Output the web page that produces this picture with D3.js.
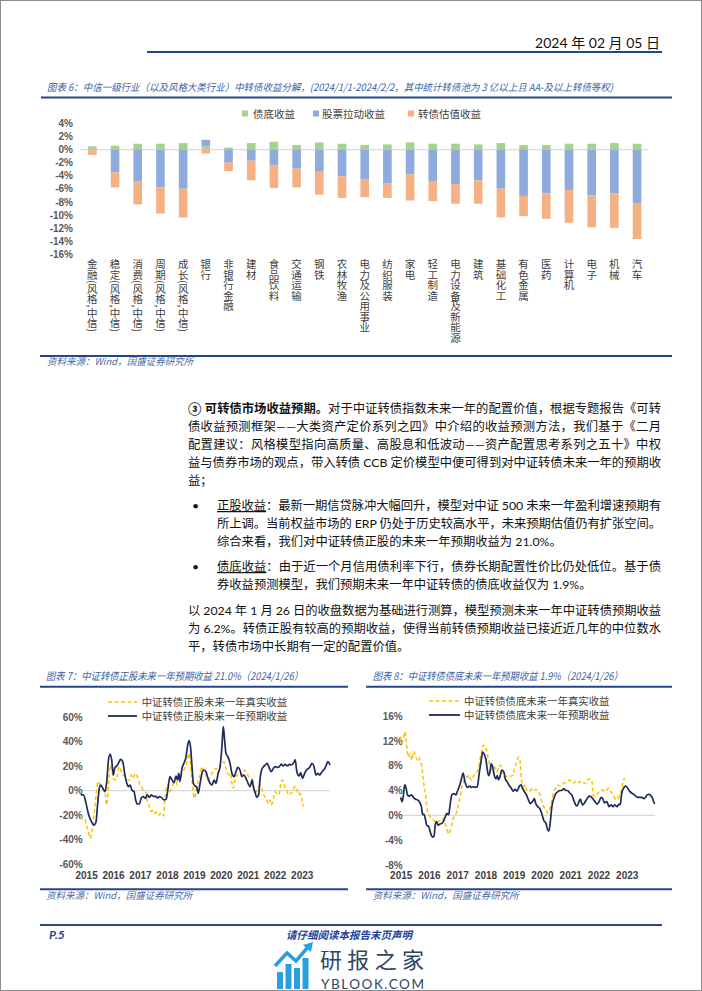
<!DOCTYPE html>
<html>
<head>
<meta charset="utf-8">
<script src="https://cdn.jsdelivr.net/npm/d3@7"></script>
<style>
body { margin: 0; background: #fff; }
svg { display: block; }
text { font-family: "Noto Sans CJK SC", sans-serif; }
.lat { font-family: Lato, "Noto Sans CJK SC", sans-serif; }
.axis text { font-family: "Liberation Sans", Arial, sans-serif; font-weight: bold; fill: #595959; }
</style>
</head>
<body>
<svg id="page" width="702" height="991"></svg>
<script>
// ---- chart 6 data: industry return decomposition, %
var industries = ["金融(风格,中信)", "稳定(风格,中信)", "消费(风格,中信)", "周期(风格,中信)", "成长(风格,中信)",
	"银行", "非银行金融", "建材", "食品饮料", "交通运输", "钢铁", "农林牧渔", "电力及公用事业", "纺织服装",
	"家电", "轻工制造", "电力设备及新能源", "建筑", "基础化工", "有色金属", "医药", "计算机", "电子", "机械", "汽车"];
var bondFloorRet = [0.5, 0.6, 0.9, 0.9, 1.0, 0.5, 0.3, 1.0, 1.2, 0.7, 1.1, 0.9, 0.7, 0.8, 1.1, 0.9, 0.9, 0.8, 1.0, 0.7, 0.7, 0.9, 0.9, 1.0, 0.9];
var stockRet = [-0.1, -3.5, -4.9, -5.8, -6.0, 1.0, -2.0, -1.7, -2.4, -2.9, -3.4, -4.1, -4.5, -5.2, -3.8, -4.8, -5.3, -4.7, -6.0, -7.1, -6.7, -6.2, -7.0, -6.7, -8.2];
var valuationRet = [-0.7, -2.3, -3.5, -4.0, -4.4, -0.6, -1.3, -3.0, -3.5, -2.9, -3.5, -3.3, -2.8, -2.2, -4.0, -3.1, -3.0, -3.6, -4.4, -3.1, -3.9, -5.0, -4.9, -5.3, -5.5];
var seriesNames6 = ["债底收益", "股票拉动收益", "转债估值收益"];
var yTicks6 = [4, 2, 0, -2, -4, -6, -8, -10, -12, -14, -16];

// ---- chart 7 data: [decimal year, %]
var eqActual = [[2014.80,-21.3],[2014.87,-24.0],[2014.96,-23.5],[2015.02,-29.5],[2015.08,-32.2],[2015.15,-39.0],[2015.21,-34.9],[2015.27,-24.0],[2015.34,-10.4],[2015.39,0.5],[2015.44,7.4],[2015.49,6.0],[2015.57,3.8],[2015.64,0.5],[2015.71,-2.2],[2015.76,-11.7],[2015.81,-2.2],[2015.86,14.2],[2015.91,21.0],[2015.96,16.9],[2016.01,10.1],[2016.09,8.7],[2016.16,12.8],[2016.23,19.6],[2016.31,15.5],[2016.38,12.8],[2016.46,11.5],[2016.53,8.7],[2016.61,8.7],[2016.68,12.8],[2016.75,10.1],[2016.83,14.2],[2016.90,11.5],[2016.98,6.0],[2017.05,3.3],[2017.12,0.5],[2017.20,-0.8],[2017.27,-9.0],[2017.35,-13.1],[2017.42,-17.2],[2017.50,-15.8],[2017.57,-18.5],[2017.64,-17.2],[2017.72,-19.9],[2017.79,-18.5],[2017.87,-20.7],[2017.92,-7.6],[2017.97,1.9],[2018.04,4.6],[2018.11,-0.8],[2018.19,3.3],[2018.26,6.0],[2018.34,4.6],[2018.41,11.5],[2018.48,10.1],[2018.56,14.2],[2018.63,16.9],[2018.71,20.9],[2018.76,25.1],[2018.83,30.5],[2018.88,19.6],[2018.93,8.7],[2018.98,-2.2],[2019.03,-6.3],[2019.08,-0.8],[2019.15,7.4],[2019.23,12.8],[2019.30,19.6],[2019.37,15.5],[2019.45,12.8],[2019.52,8.7],[2019.60,11.5],[2019.67,14.2],[2019.75,16.9],[2019.82,18.3],[2019.90,14.2],[2019.97,19.6],[2020.04,22.4],[2020.12,23.7],[2020.17,19.6],[2020.22,16.9],[2020.29,12.8],[2020.36,14.2],[2020.41,6.0],[2020.46,1.9],[2020.51,7.4],[2020.59,12.8],[2020.66,12.8],[2020.73,14.2],[2020.81,12.8],[2020.88,16.9],[2020.96,14.2],[2021.03,11.5],[2021.11,10.1],[2021.18,8.7],[2021.25,0.5],[2021.33,-0.8],[2021.40,3.3],[2021.48,4.6],[2021.55,-0.8],[2021.63,-4.9],[2021.70,-7.6],[2021.77,-10.4],[2021.82,-7.6],[2021.87,-11.7],[2021.95,-6.3],[2022.02,-0.8],[2022.10,-3.5],[2022.17,-2.2],[2022.24,7.4],[2022.29,8.7],[2022.37,3.3],[2022.44,0.5],[2022.52,-3.5],[2022.59,-2.2],[2022.67,-0.8],[2022.74,3.3],[2022.81,1.9],[2022.89,-3.5],[2022.94,-2.2],[2023.01,-7.6],[2023.06,-13.1]];
var eqPredicted = [[2014.80,-3.5],[2014.90,-3.5],[2015.00,-10.4],[2015.08,-18.5],[2015.17,-24.0],[2015.25,-27.3],[2015.29,-28.1],[2015.37,-25.4],[2015.42,-13.1],[2015.49,1.9],[2015.54,4.6],[2015.62,1.9],[2015.70,-0.8],[2015.76,6.0],[2015.83,25.1],[2015.89,30.0],[2015.95,25.1],[2016.01,12.8],[2016.06,18.3],[2016.14,20.2],[2016.21,22.9],[2016.28,25.6],[2016.36,23.7],[2016.43,14.2],[2016.51,6.0],[2016.57,3.3],[2016.63,4.6],[2016.70,0.5],[2016.78,-0.8],[2016.84,-7.6],[2016.90,-10.9],[2016.98,-10.9],[2017.04,-6.3],[2017.12,-4.9],[2017.20,-6.3],[2017.27,-3.5],[2017.35,-5.5],[2017.42,-3.5],[2017.50,-4.9],[2017.57,-4.4],[2017.64,-6.0],[2017.72,-4.9],[2017.79,-5.5],[2017.89,-7.6],[2017.97,-7.1],[2018.04,1.9],[2018.11,11.5],[2018.19,8.7],[2018.26,6.5],[2018.34,12.0],[2018.39,8.7],[2018.44,14.2],[2018.48,7.4],[2018.56,18.3],[2018.63,22.4],[2018.71,27.8],[2018.76,36.0],[2018.82,40.9],[2018.88,34.6],[2018.93,19.6],[2018.98,6.0],[2019.04,3.8],[2019.10,3.3],[2019.16,-2.2],[2019.23,6.0],[2019.30,14.2],[2019.37,16.9],[2019.45,15.5],[2019.52,10.1],[2019.60,6.0],[2019.67,4.6],[2019.75,8.7],[2019.82,6.0],[2019.90,14.2],[2019.97,19.6],[2020.04,36.0],[2020.09,52.4],[2020.14,41.5],[2020.19,30.5],[2020.26,27.8],[2020.34,22.4],[2020.41,14.2],[2020.49,11.5],[2020.56,15.5],[2020.63,19.1],[2020.71,16.9],[2020.78,11.5],[2020.86,12.8],[2020.93,10.1],[2021.01,6.0],[2021.08,3.3],[2021.16,8.7],[2021.20,3.8],[2021.28,-2.2],[2021.33,-5.5],[2021.40,-3.5],[2021.45,8.7],[2021.51,16.9],[2021.58,19.6],[2021.65,21.0],[2021.72,22.4],[2021.80,18.3],[2021.87,15.5],[2021.95,18.3],[2022.02,19.6],[2022.09,19.1],[2022.17,19.6],[2022.24,21.8],[2022.31,20.2],[2022.39,21.5],[2022.47,20.2],[2022.54,21.5],[2022.61,21.0],[2022.69,22.4],[2022.76,25.1],[2022.81,16.9],[2022.86,12.8],[2022.91,12.0],[2022.96,14.7],[2023.03,10.1],[2023.11,14.2],[2023.18,16.9],[2023.26,18.3],[2023.31,19.6],[2023.38,22.4],[2023.45,20.2],[2023.53,12.8],[2023.60,14.2],[2023.67,12.8],[2023.75,15.5],[2023.82,16.9],[2023.89,19.6],[2023.97,23.7],[2024.05,21.0]];
var yTicks7 = [60, 40, 20, 0, -20, -40, -60];

// ---- chart 8 data: [decimal year, %]
var bondActual = [[2015.00,12.7],[2015.05,11.6],[2015.09,12.2],[2015.15,13.5],[2015.21,11.1],[2015.27,9.4],[2015.33,10.0],[2015.39,8.9],[2015.45,10.3],[2015.52,9.8],[2015.59,8.9],[2015.64,9.4],[2015.68,8.9],[2015.75,7.8],[2015.80,5.7],[2015.85,4.1],[2015.90,2.5],[2015.94,0.9],[2015.99,0.1],[2016.04,-0.2],[2016.11,-0.5],[2016.18,-0.8],[2016.25,-1.3],[2016.32,-1.0],[2016.39,-0.8],[2016.46,-0.5],[2016.53,-0.6],[2016.58,-1.5],[2016.63,-2.1],[2016.70,-3.0],[2016.74,-2.6],[2016.79,-1.8],[2016.84,-0.8],[2016.88,-0.2],[2016.96,0.3],[2017.00,0.9],[2017.05,1.9],[2017.10,3.0],[2017.14,4.1],[2017.21,5.2],[2017.26,5.7],[2017.31,6.2],[2017.36,6.1],[2017.40,6.5],[2017.45,6.0],[2017.52,5.7],[2017.57,6.2],[2017.66,6.8],[2017.73,7.3],[2017.78,8.4],[2017.85,10.0],[2017.92,11.3],[2017.99,11.2],[2018.04,10.5],[2018.11,8.9],[2018.18,7.8],[2018.25,7.3],[2018.32,7.8],[2018.39,7.0],[2018.46,7.6],[2018.53,8.1],[2018.60,7.0],[2018.67,6.2],[2018.75,6.3],[2018.82,6.4],[2018.89,6.3],[2018.96,6.4],[2019.03,7.6],[2019.10,8.5],[2019.17,9.4],[2019.22,8.9],[2019.26,6.5],[2019.31,4.9],[2019.36,4.6],[2019.41,4.9],[2019.45,4.1],[2019.52,3.8],[2019.59,4.0],[2019.66,4.4],[2019.73,4.1],[2019.81,4.1],[2019.88,3.8],[2019.95,3.0],[2019.99,2.2],[2020.06,1.4],[2020.14,0.9],[2020.21,0.4],[2020.25,0.6],[2020.30,1.4],[2020.35,2.5],[2020.42,3.8],[2020.49,4.4],[2020.56,4.9],[2020.63,4.7],[2020.70,4.9],[2020.77,5.2],[2020.84,5.3],[2020.91,5.6],[2020.98,5.7],[2021.05,5.3],[2021.12,5.2],[2021.19,5.5],[2021.27,5.2],[2021.34,5.5],[2021.41,5.2],[2021.48,5.3],[2021.55,5.1],[2021.62,5.7],[2021.69,5.9],[2021.76,5.7],[2021.81,3.3],[2021.88,3.0],[2021.95,3.3],[2022.02,3.8],[2022.09,4.1],[2022.16,4.1],[2022.23,3.8],[2022.30,4.1],[2022.37,4.4],[2022.44,3.8],[2022.51,3.3],[2022.58,2.7],[2022.66,2.5],[2022.73,3.1],[2022.80,3.8],[2022.87,5.4],[2022.92,6.0]];
var bondPredicted = [[2015.00,2.9],[2015.05,2.2],[2015.09,3.0],[2015.14,4.9],[2015.19,4.4],[2015.24,3.3],[2015.31,3.1],[2015.38,3.3],[2015.45,2.9],[2015.52,2.6],[2015.59,2.5],[2015.66,2.2],[2015.73,1.4],[2015.78,0.1],[2015.82,0.2],[2015.87,-0.5],[2015.92,-1.6],[2015.99,-1.8],[2016.06,-2.9],[2016.13,-3.5],[2016.18,-3.4],[2016.22,-1.6],[2016.27,-1.0],[2016.32,-1.6],[2016.39,-1.4],[2016.46,-1.3],[2016.53,-0.8],[2016.58,-0.2],[2016.63,0.3],[2016.70,0.1],[2016.74,1.4],[2016.81,3.3],[2016.88,3.5],[2016.96,3.3],[2017.00,3.8],[2017.07,4.6],[2017.14,5.7],[2017.21,6.8],[2017.26,5.7],[2017.31,4.9],[2017.36,4.5],[2017.43,4.7],[2017.50,4.5],[2017.57,4.6],[2017.64,4.5],[2017.71,4.6],[2017.78,6.8],[2017.85,8.9],[2017.90,10.2],[2017.97,9.7],[2018.02,8.9],[2018.06,7.5],[2018.11,6.4],[2018.16,7.0],[2018.20,8.3],[2018.25,7.9],[2018.30,6.7],[2018.37,5.9],[2018.42,6.4],[2018.46,5.7],[2018.51,6.2],[2018.58,7.3],[2018.65,7.0],[2018.70,5.9],[2018.77,5.4],[2018.84,4.8],[2018.91,4.4],[2018.98,3.9],[2019.05,4.2],[2019.12,3.9],[2019.19,4.6],[2019.26,4.9],[2019.31,4.4],[2019.38,3.8],[2019.45,3.3],[2019.52,2.5],[2019.59,1.9],[2019.66,2.2],[2019.73,2.7],[2019.78,1.9],[2019.85,1.4],[2019.92,1.1],[2019.99,0.3],[2020.06,-0.8],[2020.14,-1.3],[2020.21,-2.4],[2020.25,-2.5],[2020.30,-0.8],[2020.35,1.4],[2020.42,2.7],[2020.49,3.5],[2020.56,3.8],[2020.63,4.0],[2020.70,4.0],[2020.77,4.3],[2020.84,4.0],[2020.91,4.0],[2020.98,3.6],[2021.05,3.3],[2021.12,2.5],[2021.19,1.7],[2021.24,1.5],[2021.31,2.2],[2021.36,2.6],[2021.41,1.9],[2021.45,1.7],[2021.53,2.2],[2021.60,2.7],[2021.67,3.1],[2021.74,3.0],[2021.81,2.6],[2021.88,2.2],[2021.95,1.8],[2022.02,2.2],[2022.09,2.9],[2022.16,2.6],[2022.21,2.0],[2022.30,2.2],[2022.37,1.4],[2022.44,1.7],[2022.51,1.4],[2022.58,1.7],[2022.66,1.4],[2022.73,1.8],[2022.77,1.7],[2022.82,3.5],[2022.89,4.4],[2022.96,4.7],[2023.03,4.4],[2023.10,3.9],[2023.17,3.6],[2023.24,3.4],[2023.32,3.1],[2023.39,2.9],[2023.46,2.9],[2023.53,2.9],[2023.60,2.7],[2023.67,2.9],[2023.72,3.3],[2023.79,3.4],[2023.86,3.1],[2023.90,2.9],[2023.97,2.0],[2024.00,1.9]];
var yTicks8 = [16, 12, 8, 4, 0, -4, -8];
var yearTicks = [2015, 2016, 2017, 2018, 2019, 2020, 2021, 2022, 2023];

var BLUE_LINE = "#24468c", TITLE_C = "#3d5f9f", SRC_C = "#4d6aa3";
var C_GREEN = "#A9D18E", C_BLUE = "#8FAADC", C_ORANGE = "#F4B183";
var C_YEL = "#FFC000", C_NAVY = "#1f2b5a";

var svg = d3.select("#page");

svg.append("rect").attr("x", 0.5).attr("y", 0.5).attr("width", 701).attr("height", 990)
	.attr("fill", "#fff").attr("stroke", "#8c8c8c");

// header
svg.append("text").attr("class", "lat").attr("x", 660).attr("y", 48)
	.attr("text-anchor", "end").style("font-size", "14px").attr("fill", "#111")
	.text("2024 年 02 月 05 日");
hline(147, 662, 52);

function hline(x1, x2, y) {
	svg.append("line").attr("x1", x1).attr("x2", x2).attr("y1", y).attr("y2", y)
		.attr("stroke", BLUE_LINE).attr("stroke-width", 2);
}
function italicText(x, y, str, size, len) {
	var t = svg.append("text").attr("x", x).attr("y", y).attr("fill", TITLE_C)
		.style("font-size", size + "px").style("font-style", "italic").text(str);
	if (len) t.attr("textLength", len).attr("lengthAdjust", "spacingAndGlyphs");
	return t;
}

// ================= chart 6 =================
italicText(47, 91, "图表 6：中信一级行业（以及风格大类行业）中转债收益分解，(2024/1/1-2024/2/2，其中统计转债池为 3 亿以上且 AA-及以上转债等权)", 10, 566);
hline(41, 672, 97.5);

var legend6 = [[245, 253], [316, 322], [411, 418]];
var colors6 = [C_GREEN, C_BLUE, C_ORANGE];
seriesNames6.forEach(function(n, i) {
	svg.append("rect").attr("x", legend6[i][0] - 3).attr("y", 110.5).attr("width", 6).attr("height", 6).attr("fill", colors6[i]);
	svg.append("text").attr("x", legend6[i][1]).attr("y", 117.5).style("font-size", "10.5px").attr("fill", "#404040").text(n);
});

var x6 = d3.scaleBand().domain(industries).range([81, 648.4]).paddingInner(0.62).paddingOuter(0.31);
var y6 = d3.scaleLinear().domain([-16, 4]).range([254, 123.5]);

var rows6 = industries.map(function(d, i) {
	return { name: d, bond: bondFloorRet[i], stock: stockRet[i], val: valuationRet[i] };
});
var stack6 = d3.stack().keys(["bond", "stock", "val"]).offset(d3.stackOffsetDiverging)(rows6);

var g6 = svg.append("g");
g6.append("line").attr("x1", 80).attr("x2", 648).attr("y1", y6(0)).attr("y2", y6(0))
	.attr("stroke", "#d6dbe6").attr("stroke-width", 1.2);
g6.selectAll("g.series").data(stack6).join("g").attr("class", "series")
	.attr("fill", function(d, i) { return colors6[i]; })
	.selectAll("rect").data(function(d) { return d; }).join("rect")
	.attr("x", function(d) { return x6(d.data.name); })
	.attr("width", x6.bandwidth())
	.attr("y", function(d) { return y6(Math.max(d[0], d[1])); })
	.attr("height", function(d) { return Math.abs(y6(d[0]) - y6(d[1])); });

g6.append("g").attr("class", "axis").attr("transform", "translate(76,0)")
	.call(d3.axisLeft(y6).tickValues(yTicks6).tickSize(0).tickPadding(3).tickFormat(function(d) { return d + "%"; }))
	.call(function(g) { g.select(".domain").remove(); })
	.selectAll("text").style("font-size", "10px");

g6.append("g").selectAll("text").data(industries).join("text")
	.attr("x", function(d) { return x6(d) + x6.bandwidth() / 2; })
	.attr("y", 259)
	.style("writing-mode", "vertical-rl")
	.style("font-size", "10.5px")
	.attr("fill", "#404040")
	.text(function(d) { return d; });

hline(40, 672, 356);
italicText(47, 365, "资料来源：Wind，国盛证券研究所", 9.5).attr("fill", SRC_C);

// ================= body text =================
var bodyLines = [
	{ x: 188, y: 413, just: true, segs: [["③ 可转债市场收益预期。", "b"], ["对于中证转债指数未来一年的配置价值，根据专题报告《可转"]] },
	{ x: 188, y: 431, just: true, segs: [["债收益预测框架——大类资产定价系列之四》中介绍的收益预测方法，我们基于《二月"]] },
	{ x: 188, y: 449, just: true, segs: [["配置建议：风格模型指向高质量、高股息和低波动——资产配置思考系列之五十》中权"]] },
	{ x: 188, y: 467, just: true, segs: [["益与债券市场的观点，带入转债 CCB 定价模型中便可得到对中证转债未来一年的预期收"]] },
	{ x: 188, y: 485, segs: [["益；"]] },
	{ x: 217, y: 510, just: true, segs: [["正股收益", "u"], ["：最新一期信贷脉冲大幅回升，模型对中证 500 未来一年盈利增速预期有"]] },
	{ x: 217, y: 528, just: true, segs: [["所上调。当前权益市场的 ERP 仍处于历史较高水平，未来预期估值仍有扩张空间。"]] },
	{ x: 217, y: 546, segs: [["综合来看，我们对中证转债正股的未来一年预期收益为 21.0%。"]] },
	{ x: 217, y: 571, just: true, segs: [["债底收益", "u"], ["：由于近一个月信用债利率下行，债券长期配置性价比仍处低位。基于债"]] },
	{ x: 217, y: 589, segs: [["券收益预测模型，我们预期未来一年中证转债的债底收益仅为 1.9%。"]] },
	{ x: 188, y: 615, just: true, segs: [["以 2024 年 1 月 26 日的收盘数据为基础进行测算，模型预测未来一年中证转债预期收益"]] },
	{ x: 188, y: 633, just: true, segs: [["为 6.2%。转债正股有较高的预期收益，使得当前转债预期收益已接近近几年的中位数水"]] },
	{ x: 188, y: 651, segs: [["平，转债市场中长期有一定的配置价值。"]] }
];
[510, 571].forEach(function(y) {
	svg.append("text").attr("class", "lat").attr("x", 192).attr("y", y).style("font-size", "12.3px").attr("fill", "#111").text("•");
});
bodyLines.forEach(function(l) {
	var t = svg.append("text").attr("class", "lat").attr("x", l.x).attr("y", l.y)
		.style("font-size", "12.3px").attr("fill", "#111");
	if (l.just) t.attr("textLength", 661 - l.x).attr("lengthAdjust", "spacing");
	l.segs.forEach(function(s) {
		var ts = t.append("tspan").text(s[0]);
		if (s[1] === "b") ts.style("font-weight", "bold");
		if (s[1] === "u") ts.style("text-decoration", "underline");
	});
});

// ================= line charts =================
function lineChart(o) {
	var g = svg.append("g");
	var x = d3.scaleLinear().domain(o.xDomain).range(o.xRange);
	var y = d3.scaleLinear().domain(o.yDomain).range(o.yRange);

	italicText(o.titleX, 680, o.title, 10.5, o.titleLen);
	hline(o.lineX[0], o.lineX[1], 686.7);

	g.append("line").attr("x1", o.xRange[0]).attr("x2", o.xRange[1]).attr("y1", y(0)).attr("y2", y(0))
		.attr("stroke", "#d9d9d9").attr("stroke-width", 1.2);

	g.append("g").attr("class", "axis").attr("transform", "translate(" + (o.labelRight + 3) + ",0)")
		.call(d3.axisLeft(y).tickValues(o.yTicks).tickSize(0).tickPadding(3).tickFormat(function(d) { return d + "%"; }))
		.call(function(a) { a.select(".domain").remove(); })
		.selectAll("text").style("font-size", "10px");

	g.append("g").attr("class", "axis").attr("transform", "translate(0,868)")
		.call(d3.axisBottom(x).tickValues(yearTicks).tickSize(0).tickPadding(4).tickFormat(d3.format("d")))
		.call(function(a) { a.select(".domain").remove(); })
		.selectAll("text").style("font-size", "10px").style("fill", "#404040");

	var line = d3.line().x(function(d) { return x(d[0]); }).y(function(d) { return y(d[1]); }).curve(d3.curveMonotoneX);
	g.append("path").datum(o.actual).attr("d", line).attr("fill", "none")
		.attr("stroke", C_YEL).attr("stroke-width", 1.5).attr("stroke-dasharray", "4,2.5");
	g.append("path").datum(o.predicted).attr("d", line).attr("fill", "none")
		.attr("stroke", C_NAVY).attr("stroke-width", 1.7);

	// legend
	var lg = [[o.legend[0], C_YEL, "4,2.5", o.names[0]], [o.legend[1], C_NAVY, null, o.names[1]]];
	lg.forEach(function(it) {
		var l = g.append("line").attr("x1", o.legendX[0]).attr("x2", o.legendX[1]).attr("y1", it[0]).attr("y2", it[0])
			.attr("stroke", it[1]).attr("stroke-width", it[2] ? 1.6 : 1.8);
		if (it[2]) l.attr("stroke-dasharray", it[2]);
		g.append("text").attr("x", o.legendX[2]).attr("y", it[0] + 3.6).style("font-size", "10.4px")
			.attr("fill", "#404040").text(it[3]);
	});

	hline(o.lineX[0], o.lineX[1], 889.3);
	italicText(o.titleX, 898.5, "资料来源：Wind，国盛证券研究所", 9.5).attr("fill", SRC_C);
}

lineChart({
	title: "图表 7：中证转债正股未来一年预期收益 21.0%（2024/1/26）", titleX: 46, titleLen: 257,
	lineX: [40, 348],
	xDomain: [2014.80, 2024.05], xRange: [80.7, 330],
	yDomain: [-60, 60], yRange: [864, 717.3], yTicks: yTicks7, labelRight: 82.7,
	actual: eqActual, predicted: eqPredicted,
	legend: [702, 716], legendX: [108, 137, 141.7],
	names: ["中证转债正股未来一年真实收益", "中证转债正股未来一年预期收益"]
});
lineChart({
	title: "图表 8：中证转债债底未来一年预期收益 1.9%（2024/1/26）", titleX: 372.7, titleLen: 250,
	lineX: [366, 672],
	xDomain: [2015.0, 2024.0], xRange: [400.7, 655],
	yDomain: [-8, 16], yRange: [865, 716], yTicks: yTicks8, labelRight: 402.7,
	actual: bondActual, predicted: bondPredicted,
	legend: [701, 715], legendX: [429, 460, 464],
	names: ["中证转债债底未来一年真实收益", "中证转债债底未来一年预期收益"]
});

// ================= footer =================
hline(40, 662, 925);
svg.append("text").attr("class", "lat").attr("x", 49).attr("y", 939)
	.style("font-size", "12px").style("font-weight", "bold").style("font-style", "italic")
	.attr("fill", "#1f3f9a").text("P.5");
svg.append("text").attr("x", 349).attr("y", 939).attr("text-anchor", "middle")
	.style("font-size", "10.5px").style("font-weight", "bold").style("font-style", "italic")
	.attr("fill", "#1f3f9a").text("请仔细阅读本报告末页声明");

// watermark logo
var logo = svg.append("g").attr("fill", "#2a9fde");
[[277, 972, 6], [285.5, 964, 6], [294, 968, 6], [302.5, 958, 6]].forEach(function(b) {
	logo.append("rect").attr("x", b[0]).attr("y", b[1]).attr("width", b[2]).attr("height", 989 - b[1]);
});
logo.append("path").attr("d", "M275,966 L287,953 L296,961 L308,947")
	.attr("fill", "none").attr("stroke", "#2a9fde").attr("stroke-width", 3.5);
logo.append("path").attr("d", "M303,945 L313,942 L311,952 Z");
svg.append("text").attr("x", 320).attr("y", 968).style("font-size", "22px")
	.attr("fill", "#2e4660").attr("textLength", 104).text("研报之家");
svg.append("text").attr("class", "lat").attr("x", 321).attr("y", 989).style("font-size", "13.5px")
	.attr("fill", "#2e4660").attr("textLength", 103).text("YBLOOK.COM");
</script>
</body>
</html>
